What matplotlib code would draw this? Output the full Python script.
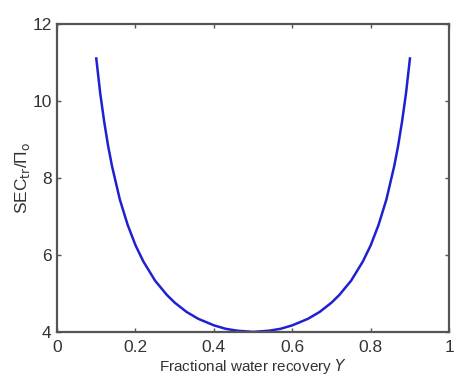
import matplotlib
matplotlib.use("Agg")
import matplotlib.pyplot as plt

# values
recovery = [0.10, 0.11, 0.12, 0.13, 0.14, 0.16, 0.18, 0.20, 0.22, 0.25, 0.28,
            0.30, 0.33, 0.36, 0.40, 0.43, 0.46, 0.50, 0.54, 0.57, 0.60, 0.64,
            0.67, 0.70, 0.72, 0.75, 0.78, 0.80, 0.82, 0.84, 0.86, 0.87, 0.88,
            0.89, 0.90]
sec_ratio = [11.1, 10.2, 9.47, 8.84, 8.31, 7.44, 6.78, 6.25, 5.83, 5.33, 4.96,
             4.76, 4.52, 4.34, 4.17, 4.08, 4.03, 4.00, 4.03, 4.08, 4.17, 4.34,
             4.52, 4.76, 4.96, 5.33, 5.83, 6.25, 6.78, 7.44, 8.31, 8.84, 9.47,
             10.2, 11.1]

xticks = [0, 0.2, 0.4, 0.6, 0.8, 1]
xticklabels = ["0", "0.2", "0.4", "0.6", "0.8", "1"]
yticks = [4, 6, 8, 10, 12]

plt.rcParams["font.family"] = ["Liberation Sans", "DejaVu Sans"]

fig = plt.figure(figsize=(4.64, 3.78), dpi=100)
ax = fig.add_axes([0.123, 0.122, 0.845, 0.815])

ax.plot(recovery, sec_ratio, color="#2020d0", linewidth=1.8)

ax.set_xlim(0, 1)
ax.set_ylim(4, 12)
ax.set_xticks(xticks)
ax.set_xticklabels(xticklabels)
ax.set_yticks(yticks)

axis_gray = "#555555"
for s in ax.spines.values():
    s.set_color(axis_gray)
    s.set_linewidth(1.6)
ax.tick_params(direction="in", length=3, width=1, colors=axis_gray,
               labelcolor="#333333", labelsize=12.5, top=True, right=True,
               pad=4)
ax.tick_params(axis="x", pad=6)

ax.set_xlabel("Fractional water recovery $\\mathit{Y}$", fontsize=11,
              color="#333333", labelpad=1)
ax.set_ylabel("SEC$_{\\mathrm{tr}}$/\u03a0$_{\\mathrm{o}}$", fontsize=12.5,
              color="#333333", labelpad=0)

fig.savefig("out.png", dpi=100)
